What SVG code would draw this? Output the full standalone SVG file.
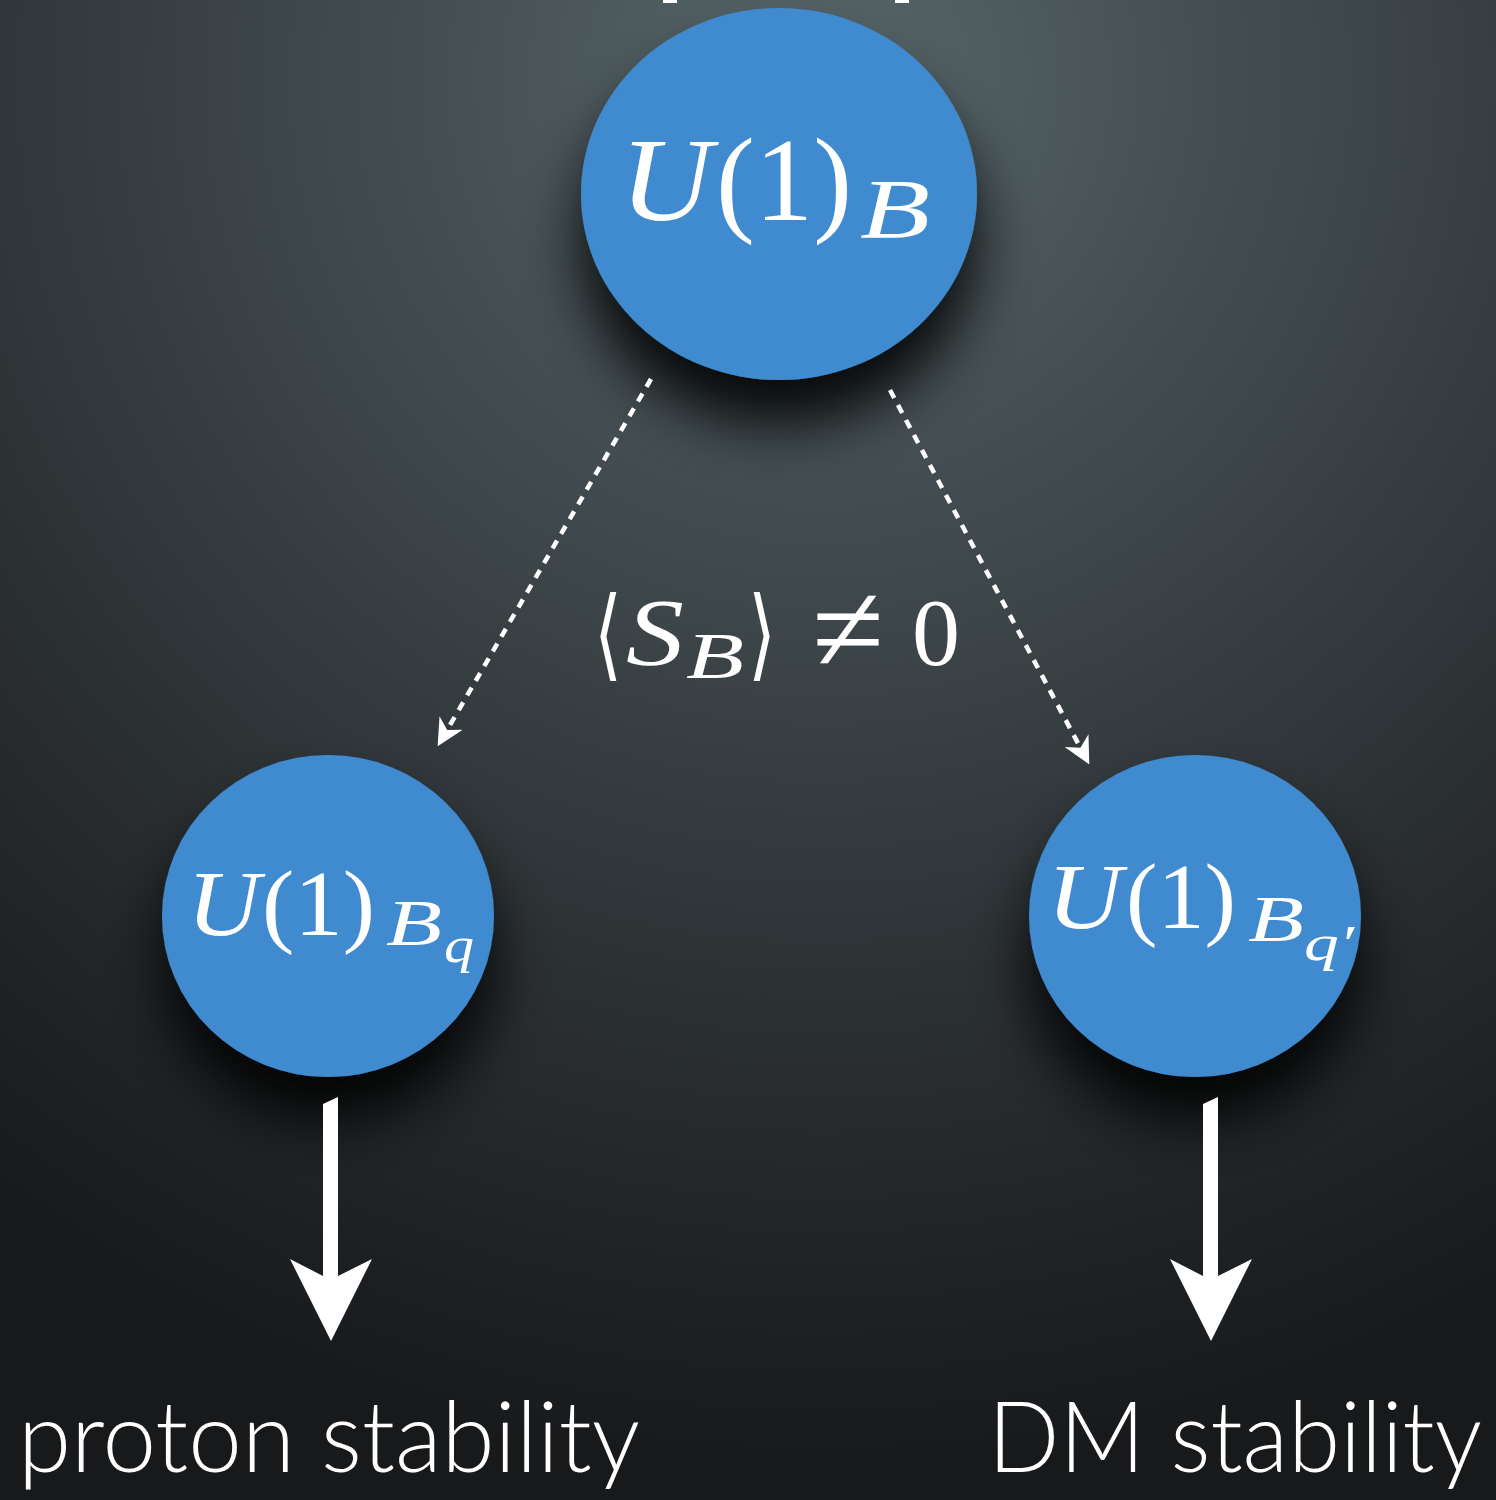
<svg xmlns="http://www.w3.org/2000/svg" width="1496" height="1500" viewBox="0 0 1496 1500">
<defs>
<radialGradient id="bg" cx="820" cy="80" r="1400" gradientUnits="userSpaceOnUse">
<stop offset="0" stop-color="#57666a"/>
<stop offset="0.3" stop-color="#434d51"/>
<stop offset="0.65" stop-color="#2c3134"/>
<stop offset="1" stop-color="#17191b"/>
</radialGradient>
<filter id="sh" x="-40%" y="-40%" width="180%" height="200%">
<feDropShadow dx="0" dy="45" stdDeviation="30" flood-color="#000" flood-opacity="0.9"/>
</filter>
<marker id="ah" viewBox="0 0 10 10" refX="9" refY="5" markerWidth="6" markerHeight="6" markerUnits="strokeWidth" orient="auto">
<path d="M0,0 L10,5 L0,10 L3,5 Z" fill="#fff"/>
</marker>
<style>
.node{fill:#3f8bd0}
.math{font-family:"Liberation Serif","DejaVu Serif",serif;fill:#fff}
.it{font-style:italic}
.dot{stroke:#fff;stroke-width:4.5;stroke-dasharray:9 8;fill:none}
.big{fill:#fff}
.lbl{font-family:"Lato","Open Sans","DejaVu Sans",sans-serif;font-weight:300;fill:#fff;font-size:98px}
</style>
</defs>
<rect width="1496" height="1500" fill="url(#bg)"/>
<rect x="663" y="0" width="14" height="3" fill="#fff"/>
<rect x="895" y="0" width="14" height="3" fill="#fff"/>

<g id="node-top">
<ellipse class="node" cx="779" cy="194" rx="198" ry="186" filter="url(#sh)"/>
<text class="math it" x="620" y="220" font-size="118" textLength="92" lengthAdjust="spacingAndGlyphs">U</text>
<text class="math" x="716" y="220" font-size="118" textLength="136" lengthAdjust="spacingAndGlyphs">(1)</text>
<text class="math it" x="860" y="238" font-size="84" textLength="70" lengthAdjust="spacingAndGlyphs">B</text>
</g>

<g id="node-left">
<ellipse class="node" cx="328" cy="916" rx="166" ry="161" filter="url(#sh)"/>
<text class="math it" x="187" y="935" font-size="94" textLength="73" lengthAdjust="spacingAndGlyphs">U</text>
<text class="math" x="262" y="935" font-size="94" textLength="113" lengthAdjust="spacingAndGlyphs">(1)</text>
<text class="math it" x="386" y="945" font-size="66" textLength="56" lengthAdjust="spacingAndGlyphs">B</text>
<text class="math it" x="444" y="962" font-size="50" textLength="30" lengthAdjust="spacingAndGlyphs">q</text>
</g>

<g id="node-right">
<ellipse class="node" cx="1195" cy="916" rx="166" ry="161" filter="url(#sh)"/>
<text class="math it" x="1047" y="928" font-size="94" textLength="75" lengthAdjust="spacingAndGlyphs">U</text>
<text class="math" x="1126" y="928" font-size="94" textLength="110" lengthAdjust="spacingAndGlyphs">(1)</text>
<text class="math it" x="1248" y="941" font-size="66" textLength="56" lengthAdjust="spacingAndGlyphs">B</text>
<text class="math it" x="1304" y="960" font-size="50" textLength="50" lengthAdjust="spacingAndGlyphs">q′</text>
</g>

<g id="label-vev">
<text class="math" x="594" y="668" font-size="100" textLength="28" lengthAdjust="spacingAndGlyphs">⟨</text>
<text class="math it" x="626" y="665" font-size="96" textLength="58" lengthAdjust="spacingAndGlyphs">S</text>
<text class="math it" x="686" y="678" font-size="66" textLength="58" lengthAdjust="spacingAndGlyphs">B</text>
<text class="math" x="748" y="668" font-size="100" textLength="28" lengthAdjust="spacingAndGlyphs">⟩</text>
<text class="math" x="812" y="672" font-size="128" textLength="72" lengthAdjust="spacingAndGlyphs">≠</text>
<text class="math" x="912" y="665" font-size="96" textLength="48" lengthAdjust="spacingAndGlyphs">0</text>
</g>

<g id="connectors">
<line class="dot" x1="651" y1="379" x2="439" y2="744" marker-end="url(#ah)"/>
<line class="dot" x1="890" y1="390" x2="1088" y2="762" marker-end="url(#ah)"/>
<path class="big" d="M323,1104 L338,1097 L338,1276 L372,1259 L331,1341 L290,1259 L323,1276 Z"/>
<path class="big" d="M1203,1104 L1218,1097 L1218,1276 L1252,1259 L1211,1341 L1170,1259 L1203,1276 Z"/>
</g>

<g id="label-proton">
<text class="lbl" x="18" y="1472" textLength="622" lengthAdjust="spacingAndGlyphs">proton stability</text>
</g>
<g id="label-dm">
<text class="lbl" x="988" y="1472" textLength="494" lengthAdjust="spacingAndGlyphs">DM stability</text>
</g>
</svg>
